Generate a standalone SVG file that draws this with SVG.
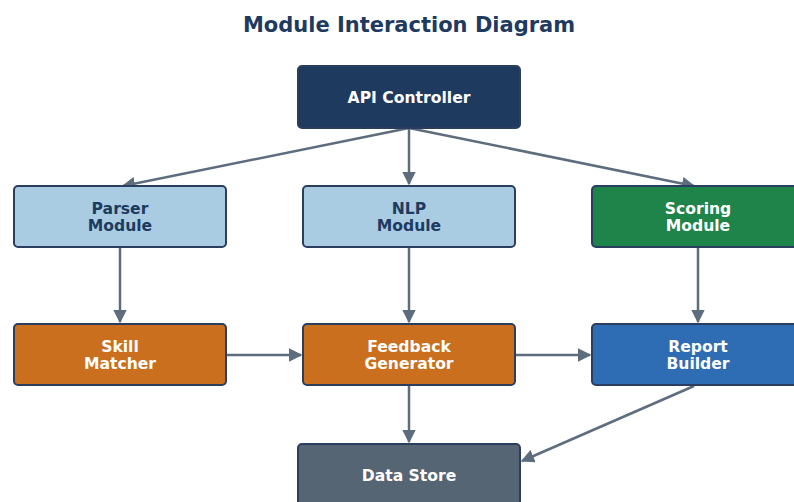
<svg xmlns="http://www.w3.org/2000/svg" width="794" height="502" viewBox="0 0 794 502">
<style>
.t{font-family:"DejaVu Sans",sans-serif;font-weight:bold;text-anchor:middle}
.title{font-size:21px;fill:#1f3a5f}
.lbl{font-size:15.6px;fill:#ffffff}
.dk{fill:#1f3a5f}
.box{stroke:#2c3e5f;stroke-width:2}
.edge{stroke:#5d6d7e;stroke-width:2.5;fill:none;marker-end:url(#ah)}
</style>
<defs>
<marker id="ah" viewBox="0 0 10 10" refX="9" refY="5" markerWidth="5.4" markerHeight="5.4" markerUnits="strokeWidth" orient="auto">
<path d="M0,0 L10,5 L0,10 z" fill="#5d6d7e"/>
</marker>
</defs>
<rect width="794" height="502" fill="#ffffff"/>
<text class="t title" x="409" y="32">Module Interaction Diagram</text>
<g id="connectors">
<line class="edge" x1="409" y1="128" x2="123" y2="186"/>
<line class="edge" x1="409" y1="128" x2="409" y2="184"/>
<line class="edge" x1="409" y1="128" x2="694" y2="186"/>
<line class="edge" x1="120" y1="248" x2="120" y2="322"/>
<line class="edge" x1="409" y1="248" x2="409" y2="322"/>
<line class="edge" x1="698" y1="248" x2="698" y2="322"/>
<line class="edge" x1="227" y1="355" x2="301" y2="355"/>
<line class="edge" x1="516" y1="355" x2="590" y2="355"/>
<line class="edge" x1="409" y1="386" x2="409" y2="442"/>
<line class="edge" x1="694" y1="386" x2="522" y2="461"/>
</g>
<g id="api">
<rect class="box" x="298" y="66" width="222" height="62" rx="4" fill="#1f3a5f"/>
<text class="t lbl" x="409" y="102.5">API Controller</text>
</g>
<g id="parser">
<rect class="box" x="14" y="186" width="212" height="61" rx="4" fill="#a9cce3"/>
<text class="t lbl dk" x="120" y="214">Parser</text>
<text class="t lbl dk" x="120" y="231">Module</text>
</g>
<g id="nlp">
<rect class="box" x="303" y="186" width="212" height="61" rx="4" fill="#a9cce3"/>
<text class="t lbl dk" x="409" y="214">NLP</text>
<text class="t lbl dk" x="409" y="231">Module</text>
</g>
<g id="scoring">
<rect class="box" x="592" y="186" width="212" height="61" rx="4" fill="#1e8449"/>
<text class="t lbl" x="698" y="214">Scoring</text>
<text class="t lbl" x="698" y="231">Module</text>
</g>
<g id="skill">
<rect class="box" x="14" y="324" width="212" height="61" rx="4" fill="#ca6f1e"/>
<text class="t lbl" x="120" y="352">Skill</text>
<text class="t lbl" x="120" y="369">Matcher</text>
</g>
<g id="feedback">
<rect class="box" x="303" y="324" width="212" height="61" rx="4" fill="#ca6f1e"/>
<text class="t lbl" x="409" y="352">Feedback</text>
<text class="t lbl" x="409" y="369">Generator</text>
</g>
<g id="report">
<rect class="box" x="592" y="324" width="212" height="61" rx="4" fill="#2e6db4"/>
<text class="t lbl" x="698" y="352">Report</text>
<text class="t lbl" x="698" y="369">Builder</text>
</g>
<g id="datastore">
<rect class="box" x="298" y="444" width="222" height="62" rx="4" fill="#566573"/>
<text class="t lbl" x="409" y="480.5">Data Store</text>
</g>
</svg>
